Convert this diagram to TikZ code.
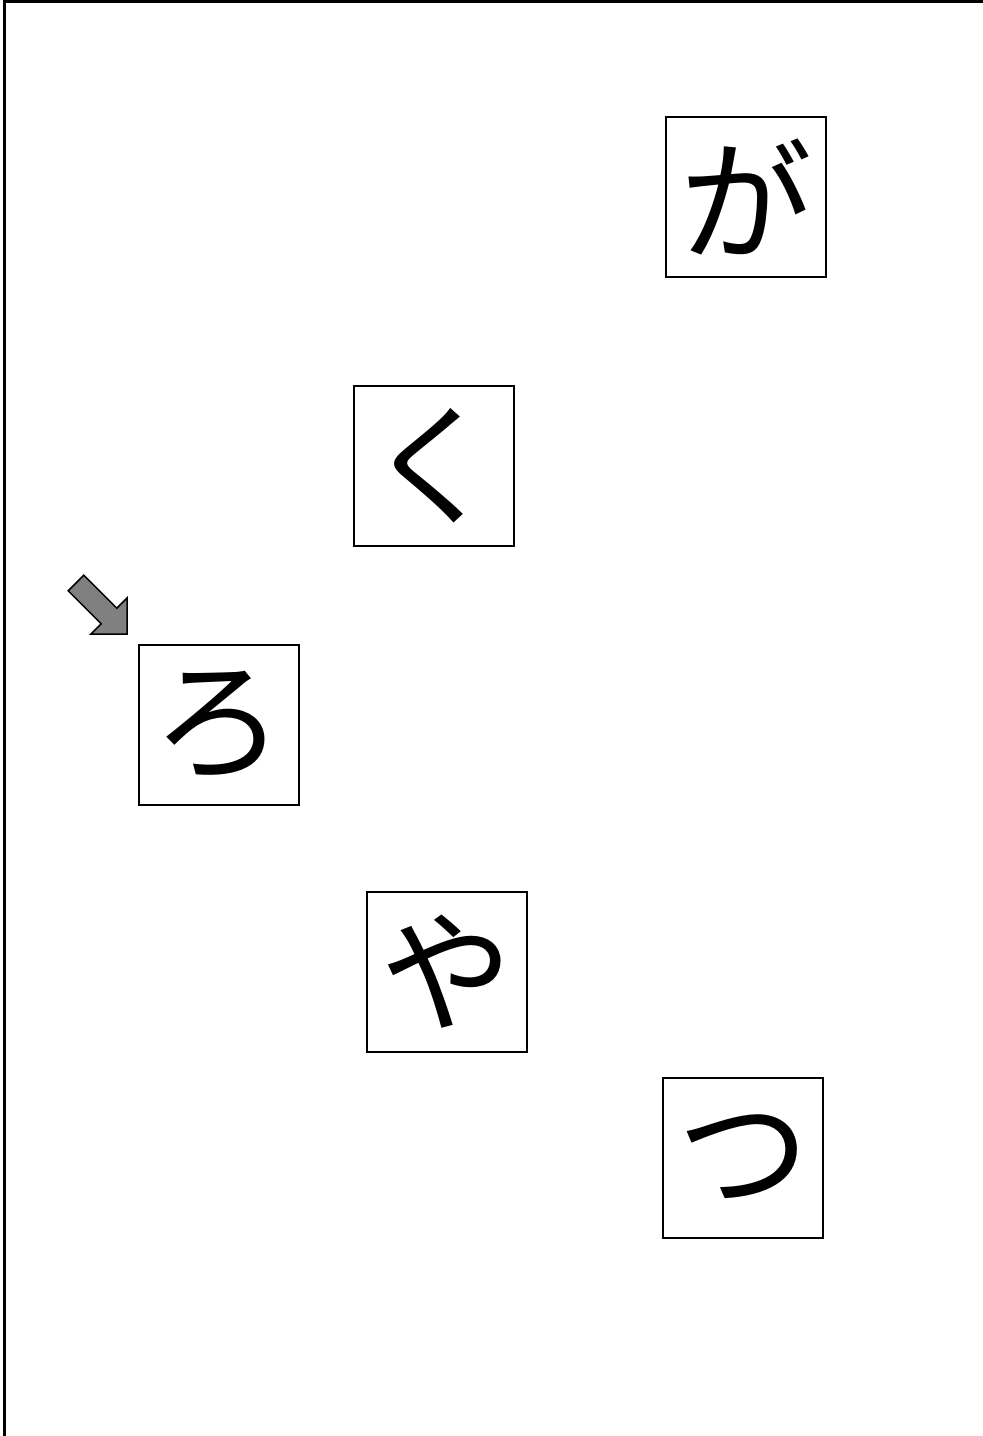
\documentclass[tikz,border=0pt]{standalone}
\usepackage{fontspec}
\newfontfamily\cjk{Noto Sans CJK JP}
\tikzset{
  kana/.style={draw=black, line width=2pt, minimum width=160pt, minimum height=160pt,
    inner sep=0pt, font=\cjk\fontsize{132}{132}\selectfont},
  frameline/.style={line width=3pt, black},
  pointer/.style={fill=black!50, draw=black, line width=1.5pt, line join=miter}
}
\begin{document}
\begin{tikzpicture}[x=1pt,y=-1pt]
\useasboundingbox (0,0) rectangle (983,1436);
\draw[frameline] (4,1436) -- (4,1.5) -- (983,1.5);
\node[kana] (ga) at (746,197) {が};
\node[kana] (ku) at (433.5,466) {く};
\node[kana] (ro) at (218.5,724.5) {ろ};
\node[kana] (ya) at (446.5,972) {や};
\node[kana] (tsu) at (743,1158) {つ};
\draw[pointer] (83.8,575.2) -- (116.8,608.2) -- (127,598) -- (127,634) -- (91,634) -- (101.2,623.8) -- (68.2,590.8) -- cycle;
\end{tikzpicture}
\end{document}
